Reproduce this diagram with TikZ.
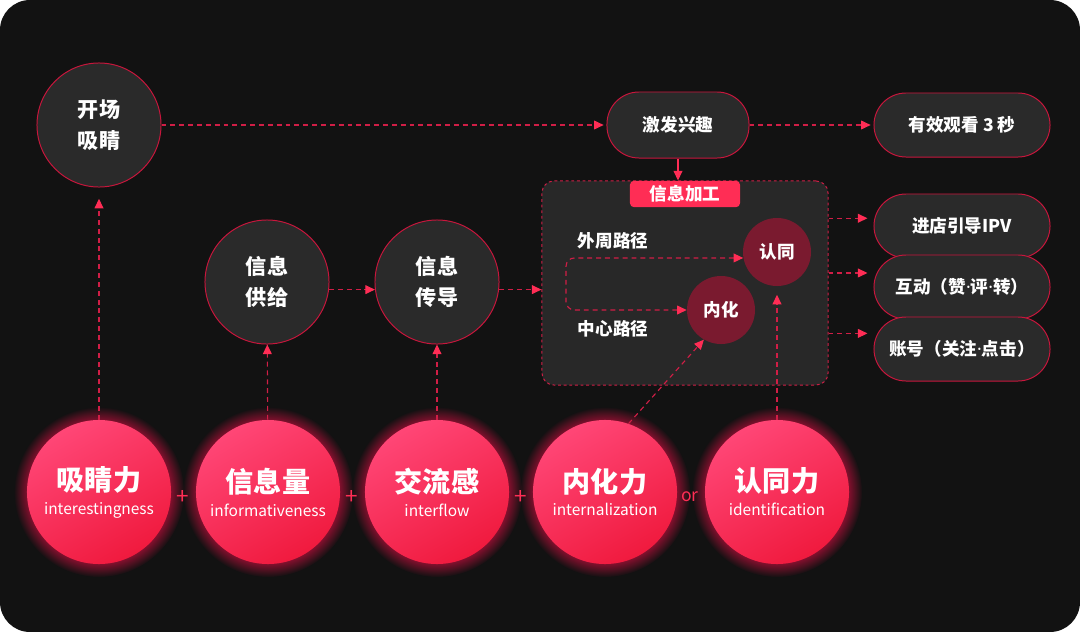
\documentclass[tikz,border=0pt]{standalone}
\usepackage{fontspec}
\setmainfont{Noto Sans CJK SC}
\newfontfamily\latinfont{Noto Sans}
\usetikzlibrary{arrows.meta,shadows,fadings,positioning}
\definecolor{bgdark}{HTML}{121212}
\definecolor{cardfill}{HTML}{2A2A2A}
\definecolor{boxfill}{HTML}{282828}
\definecolor{rim}{HTML}{C8163C}
\definecolor{dash}{HTML}{D01E46}
\definecolor{hot}{HTML}{FF2D55}
\definecolor{hotA}{HTML}{FF4676}
\definecolor{hotB}{HTML}{F01A3E}
\definecolor{deep}{HTML}{7A1A2F}
\definecolor{halo}{HTML}{A01035}
\newcommand{\mdot}{{\latinfont\bfseries·}}
\begin{document}
\begin{tikzpicture}[x=0.025cm,y=-0.025cm,>={Triangle[length=2.4mm,width=2.2mm,color=hot]},
  every node/.style={text=white},
  dark/.style={circle,draw=rim,line width=0.7pt,fill=cardfill,minimum size=3.1cm,align=center,font=\fontsize{15}{22.5}\selectfont\bfseries},
  pill/.style={rectangle,rounded corners=8mm,draw=rim,line width=0.7pt,fill=cardfill,minimum width=4.4cm,minimum height=1.6cm,font=\fontsize{12.5}{15}\selectfont\bfseries},
  ball/.style={circle,minimum size=3.6cm,top color=hotA,bottom color=hotB,shading angle=30,align=center,
    circular glow={fill=halo,shadow scale=1.18,path fading=circle with fuzzy edge 20 percent}},
  inner/.style={circle,fill=deep,minimum size=1.7cm,font=\fontsize{12.5}{15}\selectfont\bfseries},
  link/.style={draw=dash,line width=0.8pt,dash pattern=on 3.5pt off 2.8pt,->},
  sign/.style={text=hot,font=\fontsize{16}{16}\selectfont}]
\fill[white](0,0) rectangle (1080,632);
\fill[bgdark,rounded corners=7.5mm](0,0) rectangle (1080,632);

\node[dark] (kaichang) at (99,125) {开场\\吸睛};
\node[pill,minimum width=3.55cm,minimum height=1.65cm] (jixing) at (678,125) {激发兴趣};
\node[pill] (youxiao) at (962,125) {有效观看 3 秒};
\node[dark] (gongji) at (267,282) {信息\\供给};
\node[dark] (chuandao) at (437,282) {信息\\传导};

\node[draw=dash,line width=0.7pt,dash pattern=on 2pt off 2pt,fill=boxfill,rounded corners=3mm,minimum width=7.15cm,minimum height=5.1cm] (jiagong) at (685,283) {};
\node[anchor=north,fill=hot,rounded corners=1mm,minimum width=2.75cm,minimum height=0.66cm,inner sep=0pt,font=\fontsize{12.5}{15}\selectfont\bfseries] (tab) at (jiagong.north) {信息加工};
\node[font=\fontsize{12.5}{15}\selectfont\bfseries] (waizhou) at (613,241) {外周路径};
\node[font=\fontsize{12.5}{15}\selectfont\bfseries] (zhongxin) at (613,329) {中心路径};
\node[inner] (rentong) at (777,252) {认同};
\node[inner] (neihua) at (721,310) {内化};

\node[pill] (ipv) at (962,226) {进店引导IPV};
\node[pill] (hudong) at (962,287) {互动（赞\mdot 评\mdot 转）};
\node[pill] (zhanghao) at (962,349) {账号（关注\mdot 点击）};

\node[ball] (xiqing) at (99,492) {{\fontsize{20}{20}\selectfont\bfseries 吸睛力}\\[5pt]{\fontsize{11}{12}\selectfont interestingness}};
\node[ball] (xinxi) at (268,492) {{\fontsize{20}{20}\selectfont\bfseries 信息量}\\[5pt]{\fontsize{11}{12}\selectfont informativeness}};
\node[ball] (jiaoliu) at (437,492) {{\fontsize{20}{20}\selectfont\bfseries 交流感}\\[5pt]{\fontsize{11}{12}\selectfont interflow}};
\node[ball] (neihual) at (605,492) {{\fontsize{20}{20}\selectfont\bfseries 内化力}\\[5pt]{\fontsize{11}{12}\selectfont internalization}};
\node[ball] (rentongl) at (777,492) {{\fontsize{20}{20}\selectfont\bfseries 认同力}\\[5pt]{\fontsize{11}{12}\selectfont identification}};
\node[sign] (plusA) at (183,497) {+};
\node[sign] (plusB) at (352,497) {+};
\node[sign] (plusC) at (521,497) {+};
\node[sign,font=\fontsize{12.5}{15}\selectfont] (orsign) at (690,497) {or};

\draw[link,shorten >=8pt](xiqing)--(kaichang);
\draw[link](xinxi)--(gongji);
\draw[link](jiaoliu)--(chuandao);
\draw[link](gongji.-7)--(chuandao.187);
\draw[link](chuandao.-7)--(jiagong.west |- chuandao.-7);
\draw[link,shorten >=2pt](kaichang)--(jixing);
\draw[link,shorten >=2pt](jixing)--(youxiao);
\draw[->,hot,line width=0.8pt](jixing.south)--(jixing.south |- jiagong.north);
\coordinate (bend) at (566,285);
\draw[link,<->,rounded corners=6pt](rentong.190) -| (bend) |- (neihua.west);
\draw[link](neihual.71)--(neihua.240);
\draw[link,shorten >=6pt](rentongl)--(rentong);
\draw[link,shorten >=1.5mm](jiagong.east |- ipv.175)--(ipv.175);
\draw[link,shorten >=1.5mm](jiagong.east |- hudong.171)--(hudong.171);
\draw[link,shorten >=1.5mm](jiagong.east |- zhanghao.170)--(zhanghao.170);
\end{tikzpicture}
\end{document}
